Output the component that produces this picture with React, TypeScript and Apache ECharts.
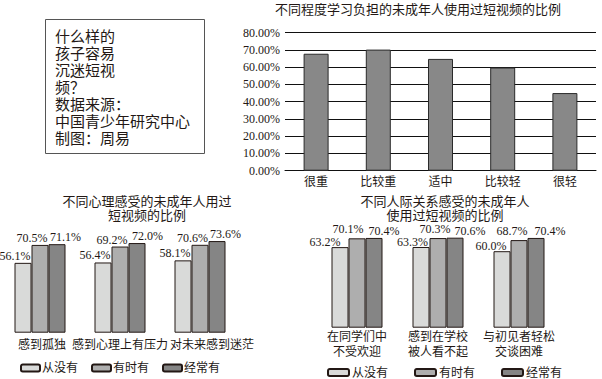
import React, { useEffect, useRef } from "react";
import * as echarts from "echarts";

const burdenCats = ["很重", "比较重", "适中", "比较轻", "很轻"];
const burdenValues = [67.8, 70.2, 64.8, 59.8, 45.0];

const psychCats = ["感到孤独", "感到心理上有压力", "对未来感到迷茫"];
const psychNever = [56.1, 56.4, 58.1];
const psychSometimes = [70.5, 69.2, 70.6];
const psychOften = [71.1, 72.0, 73.6];

const socialCats = ["在同学们中\n不受欢迎", "感到在学校\n被人看不起", "与初见者轻松\n交谈困难"];
const socialNever = [63.2, 63.3, 60.0];
const socialSometimes = [70.1, 70.3, 68.7];
const socialOften = [70.4, 70.6, 70.4];

const seriesNames = ["从没有", "有时有", "经常有"];

const titleTop = "不同程度学习负担的未成年人使用过短视频的比例";
const titleLeft = "不同心理感受的未成年人用过\n短视频的比例";
const titleRight = "不同人际关系感受的未成年人\n使用过短视频的比例";
const noteText = "什么样的\n孩子容易\n沉迷短视\n频？\n数据来源：\n中国青少年研究中心\n制图：周易";

// label nudges (style only)
const psychShift = [
  [[-8, 0], [-8, 0], [-8, 0]],
  [[-8, 0], [-8, 0], [-7.5, 0]],
  [[8.5, 0], [10.5, 0], [8.5, 0]],
];
const socialShift = [
  [[-15, 1.6], [-8.5, 1.6], [-11, 1.6]],
  [[-9, -2], [-3, -2], [-7, -2]],
  [[10, 0], [15, 0], [14, 0]],
];
const psychLabelPad = [
  [0, 0, 0, 4],
  [0, 0, 0, 0],
  [0, 0, 0, 24],
];

const FONT = '"Liberation Serif", "Noto Sans CJK SC", serif';
const colors = ["#d9dad9", "#aeaeae", "#858585"];
const border = "#231815";

export default function App() {
  const ref = useRef<HTMLDivElement>(null);
  useEffect(() => {
    const chart = echarts.init(ref.current!, null, { renderer: "svg" });

    const mkSeries = (
      names: string[],
      vals: number[][],
      shifts: number[][][],
      axisIdx: number
    ) =>
      vals.map((arr, si) => ({
        type: "bar",
        name: names[si],
        xAxisIndex: axisIdx,
        yAxisIndex: axisIdx,
        barWidth: 17,
        barGap: "0%",
        itemStyle: { color: colors[si], borderColor: border, borderWidth: 1 },
        data: arr.map((v, i) => ({
          value: v,
          label: { offset: shifts[si][i] },
        })),
        label: {
          show: true,
          position: "top",
          distance: 1,
          formatter: (p: any) => p.value.toFixed(1) + "%",
          fontFamily: FONT,
          fontSize: 12,
          color: "#231815",
        },
      }));

    const legendBase = {
      data: seriesNames,
      icon: "roundRect",
      itemHeight: 7,
      padding: 0,
      selectedMode: false,
    };

    const option: any = {
      animation: false,
      backgroundColor: "#ffffff",
      textStyle: { fontFamily: FONT },
      grid: [
        { left: 285, width: 311, top: 32.7, height: 138 },
        { left: 0, width: 240, top: 208.2, height: 124.5 },
        { left: 316.5, width: 243, top: 200.2, height: 127.5 },
      ],
      xAxis: [
        {
          gridIndex: 0,
          type: "category",
          data: burdenCats,
          axisLine: { lineStyle: { color: "#111", width: 1 } },
          axisTick: { show: false },
          axisLabel: { fontFamily: FONT, fontSize: 12, color: "#231815", margin: 5 },
        },
        {
          gridIndex: 1,
          type: "category",
          data: psychCats.map((c, i) => ({ value: c, textStyle: { padding: psychLabelPad[i] } })),
          axisLine: { show: false },
          axisTick: { show: false },
          axisLabel: { fontFamily: FONT, fontSize: 12, color: "#231815", margin: 6, interval: 0 },
        },
        {
          gridIndex: 2,
          type: "category",
          data: socialCats,
          axisLine: { show: false },
          axisTick: { show: false },
          axisLabel: {
            fontFamily: FONT,
            fontSize: 12,
            color: "#231815",
            margin: 2,
            lineHeight: 14.7,
            interval: 0,
          },
        },
      ],
      yAxis: [
        {
          gridIndex: 0,
          type: "value",
          min: 0,
          max: 80,
          interval: 10,
          axisLine: { show: false },
          axisTick: { show: false },
          axisLabel: {
            fontFamily: FONT,
            fontSize: 12,
            color: "#231815",
            margin: 5,
            formatter: (v: number) => v.toFixed(2) + "%",
          },
          splitLine: { lineStyle: { color: "#111", width: 1 } },
        },
        { gridIndex: 1, type: "value", min: 0, max: 100, show: false },
        { gridIndex: 2, type: "value", min: 0, max: 100, show: false },
      ],
      legend: [
        {
          ...legendBase,
          left: 20,
          top: 362,
          itemWidth: 19,
          itemGap: 13,
          textStyle: { fontFamily: FONT, fontSize: 12, color: "#231815", padding: [0, 0, 0, -3] },
        },
        {
          ...legendBase,
          left: 327,
          top: 366.5,
          itemWidth: 21,
          itemGap: 26,
          textStyle: { fontFamily: FONT, fontSize: 12, color: "#231815", padding: [0, 0, 0, -2] },
        },
      ],
      graphic: [
        {
          type: "rect",
          shape: { x: 45.5, y: 19.5, width: 159, height: 134 },
          style: { fill: "none", stroke: "#555", lineWidth: 1 },
        },
        {
          type: "text",
          x: 55,
          y: 26.5,
          style: {
            text: noteText,
            font: '15px "Noto Sans CJK SC", sans-serif',
            lineHeight: 17,
            fill: "#231815",
            textVerticalAlign: "top",
          },
        },
        {
          type: "text",
          x: 418,
          y: 2,
          style: {
            text: titleTop,
            font: '13px "Noto Sans CJK SC", sans-serif',
            fill: "#231815",
            textAlign: "center",
            textVerticalAlign: "top",
          },
        },
        {
          type: "text",
          x: 147,
          y: 193,
          style: {
            text: titleLeft,
            font: '13px "Noto Sans CJK SC", sans-serif',
            lineHeight: 14,
            fill: "#231815",
            textAlign: "center",
            textVerticalAlign: "top",
          },
        },
        {
          type: "text",
          x: 445,
          y: 193,
          style: {
            text: titleRight,
            font: '13px "Noto Sans CJK SC", sans-serif',
            lineHeight: 14,
            fill: "#231815",
            textAlign: "center",
            textVerticalAlign: "top",
          },
        },
      ],
      series: [
        {
          type: "bar",
          name: "学习负担",
          xAxisIndex: 0,
          yAxisIndex: 0,
          barWidth: 25,
          itemStyle: { color: "#888888", borderColor: "#2b2b2b", borderWidth: 1 },
          data: burdenValues,
        },
        ...mkSeries(seriesNames, [psychNever, psychSometimes, psychOften], psychShift, 1),
        ...mkSeries(seriesNames, [socialNever, socialSometimes, socialOften], socialShift, 2),
      ],
    };
    chart.setOption(option);
    return () => chart.dispose();
  }, []);
  return (
    <div
      ref={ref}
      style={{ position: "absolute", left: 0, top: 0, width: 602, height: 379, background: "#fff" }}
    />
  );
}
